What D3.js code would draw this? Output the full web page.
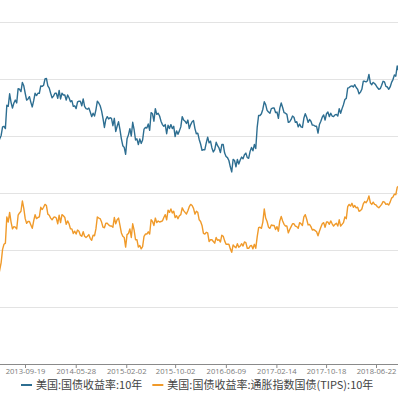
<!DOCTYPE html>
<html>
<head>
<meta charset="utf-8">
<script src="https://cdn.jsdelivr.net/npm/d3@7"></script>
<style>
    body { margin: 0; background: #fff; }
    svg { display: block; font-family: "Noto Sans CJK SC", "Noto Sans", sans-serif; }
</style>
</head>
<body>
<svg id="chart" width="398" height="398"></svg>
<script>
// weekly (Friday) closes, first week = 2013-04-26
var firstWeek = '2013-04-26';

// 美国:国债收益率:10年 (%)
var ust10_2013 = [1.66, 1.74, 1.90, 1.95, 2.01, 2.16, 2.17, 2.13, 2.54, 2.52, 2.74, 2.59, 2.49, 2.58,
    2.63, 2.58, 2.83, 2.82, 2.78, 2.94, 2.88, 2.75, 2.63, 2.65, 2.69, 2.59, 2.51,
    2.62, 2.75, 2.71, 2.75, 2.75, 2.88, 2.87, 2.89, 3.00];
var ust10_2014 = [3.01, 2.88, 2.84, 2.75, 2.67, 2.70, 2.75, 2.75, 2.66, 2.80, 2.65, 2.75, 2.72,
    2.72, 2.63, 2.72, 2.67, 2.60, 2.62, 2.52, 2.53, 2.48, 2.60, 2.61, 2.61, 2.53,
    2.65, 2.52, 2.48, 2.47, 2.49, 2.42, 2.34, 2.40, 2.35, 2.46, 2.61, 2.58, 2.53,
    2.44, 2.31, 2.15, 2.29, 2.34, 2.30, 2.32, 2.31, 2.18, 2.31, 2.08, 2.17, 2.25];
var ust10_2015 = [2.11, 1.95, 1.83, 1.80, 1.68, 1.95, 2.02, 2.13, 2.00, 2.24, 2.11, 1.93, 1.95,
    1.85, 1.95, 1.87, 1.93, 2.12, 2.15, 2.14, 2.21, 2.10, 2.41, 2.39, 2.26, 2.48,
    2.38, 2.40, 2.35, 2.26, 2.20, 2.17, 2.20, 2.04, 2.19, 2.13, 2.20, 2.13, 2.17,
    1.99, 2.09, 2.03, 2.09, 2.16, 2.34, 2.28, 2.26, 2.22, 2.28, 2.13, 2.20, 2.25];
var ust10_2016 = [2.27, 2.13, 2.04, 2.05, 1.94, 1.86, 1.75, 1.76, 1.76, 1.88, 1.98, 1.88, 1.91,
    1.79, 1.72, 1.76, 1.89, 1.83, 1.79, 1.71, 1.85, 1.85, 1.70, 1.64, 1.62, 1.57,
    1.46, 1.37, 1.59, 1.57, 1.46, 1.59, 1.51, 1.58, 1.63, 1.60, 1.67, 1.70, 1.62, 1.61,
    1.73, 1.80, 1.74, 1.85, 1.78, 2.15, 2.36, 2.36, 2.39, 2.47, 2.60, 2.55, 2.45];
var ust10_2017 = [2.42, 2.40, 2.48, 2.49, 2.49, 2.41, 2.42, 2.31, 2.49, 2.58, 2.50, 2.41, 2.40,
    2.38, 2.24, 2.25, 2.29, 2.35, 2.33, 2.24, 2.25, 2.16, 2.21, 2.16, 2.15, 2.31,
    2.39, 2.33, 2.24, 2.29, 2.26, 2.19, 2.19, 2.17, 2.17, 2.05, 2.20, 2.26, 2.33,
    2.37, 2.28, 2.39, 2.42, 2.34, 2.40, 2.35, 2.34, 2.37, 2.38, 2.35, 2.48, 2.40];
var ust10_2018 = [2.48, 2.55, 2.64, 2.66, 2.84, 2.85, 2.87, 2.88, 2.86, 2.90, 2.85, 2.82, 2.74,
    2.77, 2.82, 2.96, 2.96, 2.95, 2.97, 3.08, 2.93, 2.90, 2.94, 2.92, 2.89, 2.85,
    2.82, 2.83, 2.89, 2.96, 2.95, 2.87, 2.86, 2.82, 2.86, 2.94, 2.99, 3.07, 3.05,
    3.23, 3.15];

// 美国:国债收益率:通胀指数国债(TIPS):10年 (%)
var tips10_2013 = [-0.64, -0.60, -0.47, -0.35, -0.22, 0.01, 0.10, 0.12, 0.58, 0.49, 0.66, 0.49, 0.37, 0.41,
    0.40, 0.37, 0.61, 0.65, 0.68, 0.86, 0.73, 0.55, 0.47, 0.50, 0.50, 0.44, 0.38,
    0.51, 0.62, 0.55, 0.57, 0.58, 0.75, 0.71, 0.75, 0.80];
var tips10_2014 = [0.78, 0.63, 0.61, 0.56, 0.53, 0.57, 0.58, 0.56, 0.46, 0.61, 0.48, 0.62, 0.60,
    0.57, 0.45, 0.51, 0.46, 0.37, 0.37, 0.29, 0.33, 0.28, 0.35, 0.33, 0.26, 0.24,
    0.32, 0.24, 0.22, 0.24, 0.27, 0.20, 0.17, 0.26, 0.25, 0.37, 0.58, 0.56, 0.55,
    0.49, 0.40, 0.39, 0.47, 0.47, 0.44, 0.42, 0.42, 0.40, 0.57, 0.46, 0.53, 0.56];
var tips10_2015 = [0.43, 0.30, 0.24, 0.22, 0.05, 0.27, 0.29, 0.37, 0.22, 0.46, 0.35, 0.18, 0.18,
    0.05, 0.08, 0.02, 0.06, 0.24, 0.28, 0.28, 0.32, 0.28, 0.53, 0.50, 0.43, 0.56,
    0.48, 0.51, 0.49, 0.50, 0.51, 0.57, 0.62, 0.53, 0.70, 0.66, 0.72, 0.65, 0.68,
    0.57, 0.60, 0.55, 0.60, 0.62, 0.74, 0.69, 0.66, 0.63, 0.69, 0.76, 0.80, 0.78];
var tips10_2016 = [0.73, 0.63, 0.68, 0.66, 0.53, 0.50, 0.43, 0.29, 0.28, 0.31, 0.30, 0.15, 0.18,
    0.18, 0.15, 0.12, 0.22, 0.17, 0.18, 0.14, 0.26, 0.24, 0.16, 0.10, 0.10, 0.10,
    0.02, -0.04, 0.09, 0.06, 0.04, 0.11, 0.05, 0.07, 0.11, 0.07, 0.14, 0.13, 0.03, 0.03,
    0.07, 0.08, 0.02, 0.10, 0.03, 0.23, 0.39, 0.40, 0.38, 0.49, 0.72, 0.56, 0.50];
var tips10_2017 = [0.40, 0.38, 0.44, 0.43, 0.43, 0.36, 0.41, 0.33, 0.51, 0.59, 0.51, 0.45, 0.42,
    0.42, 0.30, 0.36, 0.41, 0.46, 0.46, 0.42, 0.41, 0.38, 0.48, 0.46, 0.43, 0.58,
    0.62, 0.54, 0.44, 0.45, 0.41, 0.35, 0.36, 0.34, 0.32, 0.25, 0.33, 0.40, 0.46,
    0.48, 0.40, 0.49, 0.49, 0.45, 0.51, 0.46, 0.42, 0.45, 0.47, 0.42, 0.53, 0.42];
var tips10_2018 = [0.45, 0.48, 0.58, 0.55, 0.76, 0.80, 0.77, 0.82, 0.75, 0.78, 0.74, 0.75, 0.68,
    0.69, 0.72, 0.81, 0.85, 0.83, 0.87, 0.95, 0.83, 0.80, 0.84, 0.80, 0.79, 0.76,
    0.74, 0.77, 0.80, 0.85, 0.84, 0.80, 0.81, 0.79, 0.84, 0.91, 0.93, 0.98, 0.97,
    1.10, 1.12];

var xTickLabels = ['2013-09-19', '2014-05-28', '2015-02-02', '2015-10-02',
    '2016-06-09', '2017-02-14', '2017-10-18', '2018-06-22'];
var yTicks = [-2, -1, 0, 1, 2, 3, 4];
var seriesNames = ['美国:国债收益率:10年', '美国:国债收益率:通胀指数国债(TIPS):10年'];
var seriesColors = ['#2d6e91', '#f09a2a'];

d3.select(window).on('load', init);

function init() {
    var svg = d3.select('#chart');
    var parse = d3.timeParse('%Y-%m-%d');

    var ust10 = ust10_2013.concat(ust10_2014, ust10_2015, ust10_2016, ust10_2017, ust10_2018);
    var tips10 = tips10_2013.concat(tips10_2014, tips10_2015, tips10_2016, tips10_2017, tips10_2018);

    // one Friday per value
    var weeks = d3.timeFriday.range(parse(firstWeek), d3.timeDay.offset(parse(firstWeek), 7 * ust10.length));

    var tickDates = xTickLabels.map(parse);

    // plot area is wider than the picture, lines run off both edges
    var xScale = d3.scaleTime()
        .domain([tickDates[0], tickDates[tickDates.length - 1]])
        .range([25, 376]);

    var yScale = d3.scaleLinear()
        .domain([-2, 4])
        .range([364, 22]);

    // grid
    svg.append('g')
        .selectAll('line')
        .data(yTicks.slice(1))
        .enter()
        .append('line')
        .attr('x1', 0).attr('x2', 398)
        .attr('y1', function(d) { return yScale(d); })
        .attr('y2', function(d) { return yScale(d); })
        .attr('stroke', '#e3e3e3')
        .attr('stroke-width', 1)
        .attr('shape-rendering', 'crispEdges');

    var line = d3.line()
        .x(function(d, i) { return xScale(weeks[i]); })
        .y(function(d) { return yScale(d); });

    svg.append('path')
        .attr('d', line(ust10))
        .attr('fill', 'none')
        .attr('stroke', seriesColors[0])
        .attr('stroke-width', 1.4)
        .attr('stroke-linejoin', 'round');

    svg.append('path')
        .attr('d', line(tips10))
        .attr('fill', 'none')
        .attr('stroke', seriesColors[1])
        .attr('stroke-width', 1.4)
        .attr('stroke-linejoin', 'round');

    // x axis
    var xAxis = d3.axisBottom(xScale)
        .tickValues(tickDates)
        .tickFormat(d3.timeFormat('%Y-%m-%d'))
        .tickSize(4)
        .tickSizeOuter(0);

    var gx = svg.append('g')
        .attr('transform', 'translate(0,' + yScale(-2) + ')')
        .call(xAxis);
    gx.select('.domain').remove();
    gx.insert('line', ':first-child')
        .attr('x1', 0).attr('x2', 398)
        .attr('y1', 0).attr('y2', 0)
        .attr('stroke', '#8a8a8a')
        .attr('shape-rendering', 'crispEdges');
    gx.selectAll('.tick line').attr('stroke', '#8a8a8a');
    gx.selectAll('.tick text')
        .attr('y', 5)
        .attr('fill', '#7a7a7a')
        .style('font-size', '7.6px')
        .style('font-family', '"Open Sans", sans-serif');

    // legend
    var legend = svg.append('g').attr('transform', 'translate(0,385)');
    var items = legend.selectAll('g')
        .data(seriesNames)
        .enter()
        .append('g');
    items.append('line')
        .attr('x1', 0).attr('x2', 11)
        .attr('y1', 0).attr('y2', 0)
        .attr('stroke', function(d, i) { return seriesColors[i]; })
        .attr('stroke-width', 2);
    items.append('text')
        .attr('x', 15)
        .attr('dy', '0.35em')
        .attr('fill', '#444')
        .style('font-size', '11px')
        .text(function(d) { return d; });

    var pos = 0, widths = [];
    items.each(function() { widths.push(this.getBBox().width); });
    var start = 21;
    items.attr('transform', function(d, i) {
        var x = start + pos;
        pos += widths[i] + 10;
        return 'translate(' + x + ',0)';
    });
}
</script>
</body>
</html>
